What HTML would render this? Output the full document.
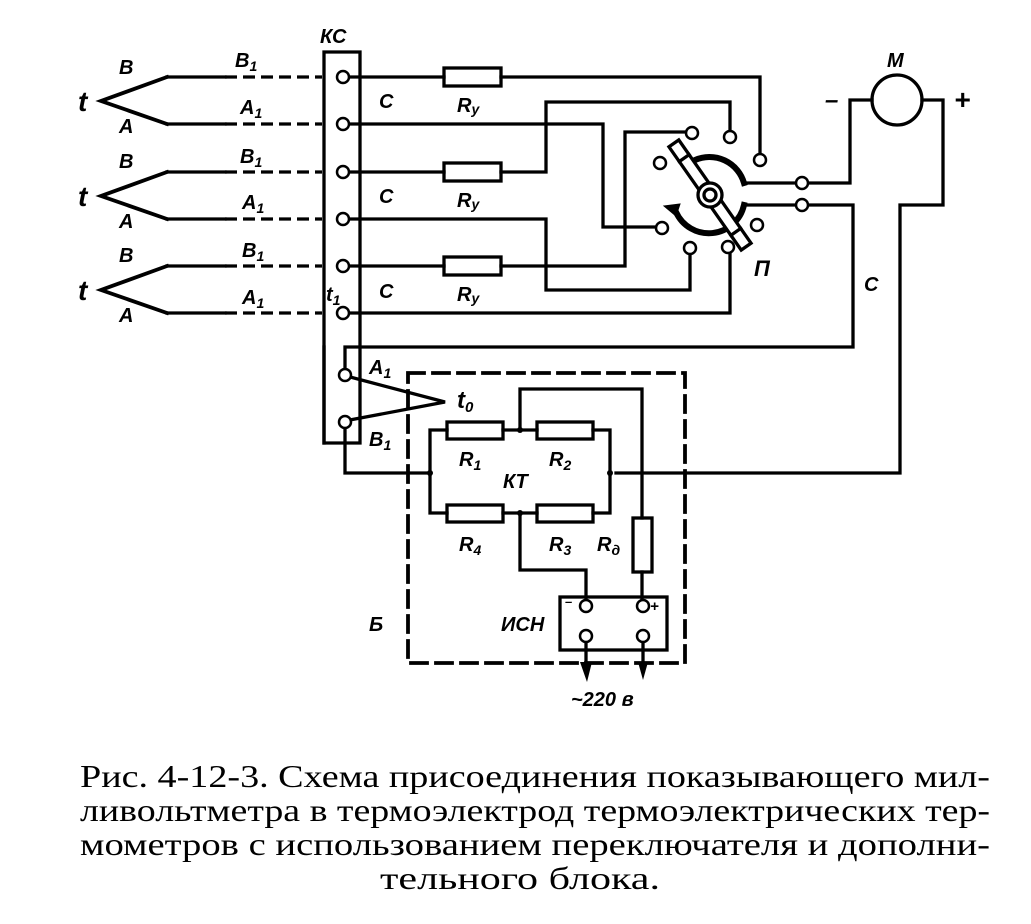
<!DOCTYPE html>
<html><head><meta charset="utf-8"><style>
html,body{margin:0;padding:0;background:#fff;}
svg{display:block}
.l{font-family:"Liberation Sans",sans-serif;font-style:italic;font-weight:bold;fill:#000}
.c{font-family:"Liberation Serif","DejaVu Serif",serif;fill:#000}
</style></head><body>
<svg width="1031" height="924" viewBox="0 0 1031 924" xmlns="http://www.w3.org/2000/svg">
<g stroke="#000" stroke-width="3.3" fill="none" stroke-linecap="square">
<g id="tc">
<polyline points="167,77 101,101 167,124" stroke-width="3.8"/>
<line x1="167" y1="77" x2="225" y2="77"/><line x1="225" y1="77" x2="322" y2="77" stroke-dasharray="12,6" stroke-linecap="butt"/>
<line x1="167" y1="124" x2="225" y2="124"/><line x1="225" y1="124" x2="322" y2="124" stroke-dasharray="12,6" stroke-linecap="butt"/>
</g>
<use href="#tc" y="95"/>
<use href="#tc" y="189"/>
<polyline points="324,443 324,52 360,52 360,443 324,443"/>
<line x1="349" y1="77" x2="444" y2="77"/><rect x="444" y="68" width="57" height="18"/>
<polyline points="501,77 760,77 760,154"/>
<polyline points="349,124 603,124 603,227 656,227"/>
<line x1="349" y1="172" x2="444" y2="172"/><rect x="444" y="163" width="57" height="18"/>
<polyline points="501,172 546,172 546,102 730,102 730,131"/>
<polyline points="349,219 546,219 546,290 690,290 690,254"/>
<line x1="349" y1="266" x2="444" y2="266"/><rect x="444" y="257" width="57" height="18"/>
<polyline points="501,266 625,266 625,132 686,132"/>
<polyline points="349,313 730,313 730,253"/>
<polyline points="345,369 345,347 853,347 853,205 808,205"/>
<polyline points="796,183 745,183"/>
<polyline points="808,183 850,183 850,100 872,100"/>
<line x1="745" y1="205" x2="796" y2="205"/>
<circle cx="897" cy="100" r="25"/>
<polyline points="922,100 943,100 943,205 900,205 900,473 616,473"/>
<path d="M695,160 A36,36 0 0 1 744,183" stroke-width="6"/>
<path d="M744,205 A36,36 0 0 1 676,212" stroke-width="6"/>
<polygon points="664,206 680,204 676,216" fill="#000" stroke-width="1"/>
<g transform="rotate(55 710 195)">
<rect x="647" y="189" width="126" height="12" fill="#fff"/>
<line x1="665" y1="189" x2="665" y2="201"/><line x1="755" y1="189" x2="755" y2="201"/>
</g>
<circle cx="710" cy="195" r="12" fill="#fff"/><circle cx="710" cy="195" r="6"/>
<g fill="#fff" stroke-width="2.5">
<circle cx="343" cy="77" r="6"/><circle cx="343" cy="124" r="6"/><circle cx="343" cy="172" r="6"/>
<circle cx="343" cy="219" r="6"/><circle cx="343" cy="266" r="6"/><circle cx="343" cy="313" r="6"/>
<circle cx="692" cy="133" r="6"/><circle cx="730" cy="137" r="6"/><circle cx="760" cy="160" r="6"/>
<circle cx="660" cy="163" r="6"/><circle cx="662" cy="228" r="6"/><circle cx="690" cy="248" r="6"/>
<circle cx="728" cy="247" r="6"/><circle cx="757" cy="225" r="6"/>
<circle cx="802" cy="183" r="6"/><circle cx="802" cy="205" r="6"/>
</g>
<line x1="324" y1="347" x2="324" y2="443"/>
<polyline points="350,377 445,402 350,420"/>
<polyline points="345,428 345,473 430,473"/>
<rect x="408" y="373" width="277" height="290" stroke-dasharray="16,9" stroke-width="3.8"/>
<polyline points="430,473 430,430 447,430"/><rect x="447" y="422" width="56" height="17"/>
<line x1="503" y1="430" x2="537" y2="430"/><rect x="537" y="422" width="56" height="17"/>
<polyline points="593,430 610,430 610,473"/>
<polyline points="430,473 430,513 447,513"/><rect x="447" y="505" width="56" height="17"/>
<line x1="503" y1="513" x2="537" y2="513"/><rect x="537" y="505" width="56" height="17"/>
<polyline points="593,513 610,513 610,473"/>
<polyline points="520,430 520,389 642,389 642,518"/>
<rect x="633" y="518" width="19" height="54"/>
<line x1="642" y1="572" x2="642" y2="600"/>
<polyline points="520,513 520,570 586,570 586,600"/>
<rect x="560" y="597" width="107" height="53"/>
<line x1="586" y1="642" x2="586" y2="668"/><line x1="643" y1="642" x2="643" y2="668"/>
<g fill="#fff" stroke-width="2.5">
<circle cx="345" cy="375" r="6"/><circle cx="345" cy="422" r="6"/>
<circle cx="586" cy="606" r="6"/><circle cx="643" cy="606" r="6"/>
<circle cx="586" cy="636" r="6"/><circle cx="643" cy="636" r="6"/>
</g>
<g fill="#000" stroke="none">
<circle cx="430" cy="473" r="3"/><circle cx="610" cy="473" r="3"/><circle cx="520" cy="430" r="3"/><circle cx="520" cy="513" r="3"/>
<polygon points="580,662 592,662 587,682"/><polygon points="638,662 648,662 643,680"/>
</g>
</g>
<g class="l" font-size="20">
<text x="119" y="74">B</text><text x="119" y="133">A</text><text x="78" y="111" font-size="28">t</text>
<text x="119" y="168">B</text><text x="119" y="228">A</text><text x="78" y="206" font-size="28">t</text>
<text x="119" y="262">B</text><text x="119" y="322">A</text><text x="78" y="300" font-size="28">t</text>
<text x="235" y="67">B<tspan font-size="14" dy="4">1</tspan></text>
<text x="240" y="114">A<tspan font-size="14" dy="4">1</tspan></text>
<text x="240" y="163">B<tspan font-size="14" dy="4">1</tspan></text>
<text x="242" y="209">A<tspan font-size="14" dy="4">1</tspan></text>
<text x="242" y="257">B<tspan font-size="14" dy="4">1</tspan></text>
<text x="242" y="304">A<tspan font-size="14" dy="4">1</tspan></text>
<text x="320" y="43">КС</text>
<text x="379" y="108">С</text><text x="379" y="203">С</text><text x="379" y="298">С</text>
<text x="326" y="301">t<tspan font-size="14" dy="4">1</tspan></text>
<text x="457" y="112">R<tspan font-size="14" dy="2">у</tspan></text>
<text x="457" y="207">R<tspan font-size="14" dy="2">у</tspan></text>
<text x="457" y="301">R<tspan font-size="14" dy="2">у</tspan></text>
<text x="887" y="67">М</text>
<text x="825" y="108" font-size="24">–</text><text x="954" y="109" font-size="28">+</text>
<text x="754" y="276" font-size="22">П</text>
<text x="864" y="291">С</text>
<text x="369" y="374">A<tspan font-size="14" dy="4">1</tspan></text>
<text x="369" y="446">B<tspan font-size="14" dy="4">1</tspan></text>
<text x="457" y="408" font-size="24">t<tspan font-size="15" dy="4">0</tspan></text>
<text x="459" y="466">R<tspan font-size="14" dy="4">1</tspan></text>
<text x="549" y="466">R<tspan font-size="14" dy="4">2</tspan></text>
<text x="503" y="488">КТ</text>
<text x="459" y="551">R<tspan font-size="14" dy="4">4</tspan></text>
<text x="549" y="551">R<tspan font-size="14" dy="4">3</tspan></text>
<text x="597" y="551">R<tspan font-size="14" dy="4">д</tspan></text>
<text x="501" y="631">ИСН</text>
<text x="369" y="631">Б</text>
<text x="565" y="606" font-size="13">–</text><text x="650" y="611" font-size="15">+</text>
<text x="571" y="706">~220 в</text>
</g>
<g class="c" font-size="32">
<text x="80" y="787" textLength="910" lengthAdjust="spacingAndGlyphs">Рис. 4-12-3. Схема присоединения показывающего мил-</text>
<text x="80" y="821" textLength="910" lengthAdjust="spacingAndGlyphs">ливольтметра в термоэлектрод термоэлектрических тер-</text>
<text x="80" y="855" textLength="910" lengthAdjust="spacingAndGlyphs">мометров с использованием переключателя и дополни-</text>
<text x="380" y="889" textLength="280" lengthAdjust="spacingAndGlyphs">тельного блока.</text>
</g>
</svg>
</body></html>
